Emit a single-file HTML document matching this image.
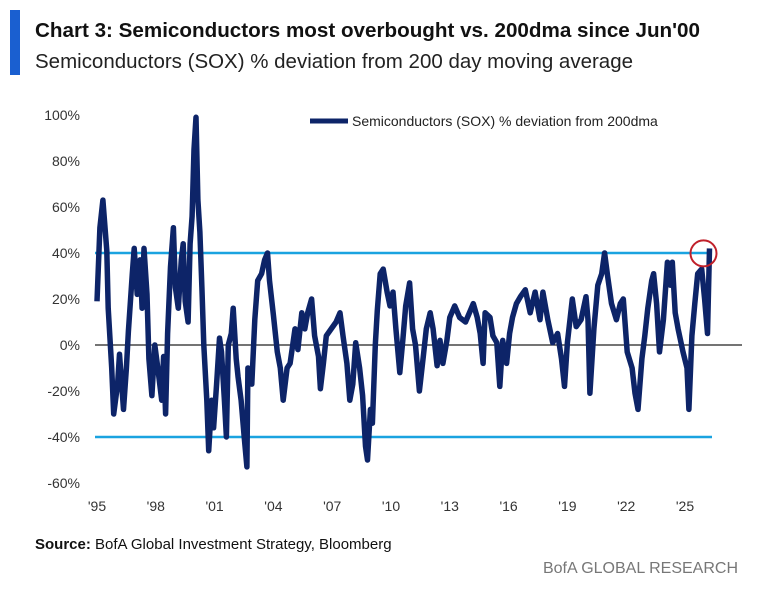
<!DOCTYPE html>
<html><head><meta charset="utf-8"><style>
body{margin:0;background:#fff;width:768px;height:591px;overflow:hidden;font-family:"Liberation Sans",sans-serif}
</style></head><body>
<svg width="768" height="591" viewBox="0 0 768 591" xmlns="http://www.w3.org/2000/svg" font-family="Liberation Sans, sans-serif">
<rect x="10" y="10" width="10" height="65" fill="#1a5fd0"/>
<text x="35" y="37" font-size="20" font-weight="bold" fill="#111" textLength="665" lengthAdjust="spacingAndGlyphs">Chart 3: Semiconductors most overbought vs. 200dma since Jun'00</text>
<text x="35" y="68" font-size="20" fill="#222" textLength="598" lengthAdjust="spacingAndGlyphs">Semiconductors (SOX) % deviation from 200 day moving average</text>
<g id="yticks" font-size="14" fill="#333" text-anchor="end"></g>
<g id="xticks" font-size="14" fill="#333" text-anchor="middle"></g>
<line id="zero" stroke="#222" stroke-width="1.3"/>
<line id="up" stroke="#1aa3e0" stroke-width="2.5"/>
<line id="dn" stroke="#1aa3e0" stroke-width="2.5"/>
<path id="series" fill="none" stroke="#0d2468" stroke-width="5.5" stroke-linejoin="round"/>
<circle id="mark" r="13" fill="none" stroke="#c0202a" stroke-width="2"/>
<line x1="310" y1="121" x2="348" y2="121" stroke="#0d2468" stroke-width="5"/>
<text x="352" y="126" font-size="14" fill="#222">Semiconductors (SOX) % deviation from 200dma</text>
<text x="35" y="549" font-size="15" fill="#111"><tspan font-weight="bold">Source:</tspan> BofA Global Investment Strategy, Bloomberg</text>
<text x="738" y="573" font-size="16" fill="#777" text-anchor="end">BofA GLOBAL RESEARCH</text>
</svg>
<script>
const yTickVals=[100,80,60,40,20,0,-20,-40,-60];
const xTickYears=[1995,1998,2001,2004,2007,2010,2013,2016,2019,2022,2025];
const xTickLabels=["'95","'98","'01","'04","'07","'10","'13","'16","'19","'22","'25"];
const years=[1995.0,1995.15,1995.3,1995.5,1995.57,1995.75,1995.85,1996.05,1996.15,1996.35,1996.5,1996.6,1996.8,1996.9,1997.05,1997.2,1997.3,1997.4,1997.55,1997.65,1997.8,1997.95,1998.1,1998.3,1998.4,1998.5,1998.6,1998.75,1998.9,1999.0,1999.15,1999.3,1999.4,1999.5,1999.65,1999.75,1999.85,1999.95,2000.05,2000.15,2000.25,2000.35,2000.45,2000.6,2000.7,2000.85,2000.95,2001.1,2001.25,2001.35,2001.5,2001.6,2001.7,2001.85,2001.95,2002.1,2002.2,2002.35,2002.5,2002.65,2002.7,2002.9,2003.05,2003.2,2003.4,2003.55,2003.7,2003.8,2004.0,2004.2,2004.35,2004.5,2004.7,2004.85,2005.1,2005.25,2005.45,2005.6,2005.75,2005.95,2006.1,2006.3,2006.4,2006.55,2006.7,2006.95,2007.2,2007.4,2007.55,2007.75,2007.9,2008.05,2008.2,2008.4,2008.55,2008.7,2008.8,2008.95,2009.05,2009.2,2009.3,2009.45,2009.6,2009.8,2009.95,2010.1,2010.25,2010.45,2010.6,2010.75,2010.95,2011.1,2011.25,2011.45,2011.65,2011.8,2012.0,2012.15,2012.35,2012.5,2012.65,2012.85,2013.0,2013.25,2013.5,2013.8,2014.05,2014.2,2014.4,2014.55,2014.7,2014.8,2015.05,2015.2,2015.4,2015.55,2015.7,2015.9,2016.05,2016.2,2016.4,2016.6,2016.85,2017.1,2017.35,2017.6,2017.75,2018.0,2018.25,2018.5,2018.7,2018.85,2019.0,2019.25,2019.45,2019.7,2019.95,2020.05,2020.15,2020.35,2020.55,2020.75,2020.9,2021.05,2021.25,2021.5,2021.7,2021.85,2022.05,2022.3,2022.45,2022.6,2022.8,2022.95,2023.1,2023.3,2023.4,2023.55,2023.7,2023.9,2024.1,2024.25,2024.35,2024.5,2024.65,2024.9,2025.1,2025.2,2025.35,2025.5,2025.65,2025.85,2026.0,2026.15,2026.25];
const values=[19,51,63,41,16,-10,-30,-17,-4,-28,-10,6,31,42,22,37,16,42,22,-6,-22,0,-10,-24,-5,-30,5,34,51,25,16,37,44,19,10,44,56,85,99,63,49,25,0,-24,-46,-24,-36,-17,3,-3,-24,-40,0,5,16,-6,-14,-24,-39,-53,-10,-17,11,28,31,37,40,28,13,-3,-10,-24,-10,-8,7,-2,14,7,14,20,4,-5,-19,-8,4,7,10,14,4,-8,-24,-17,1,-10,-22,-44,-50,-28,-34,0,15,31,33,23,17,23,7,-12,2,17,27,7,0,-20,-5,7,14,7,-9,2,-8,2,12,17,12,10,15,18,12,5,-8,14,12,4,1,-18,2,-8,5,12,18,21,24,14,23,11,23,11,1,5,-6,-18,1,20,8,11,21,11,-21,7,26,31,40,30,18,11,18,20,-3,-10,-21,-28,-6,4,16,28,31,18,-3,11,36,26,36,14,7,-3,-10,-28,4,18,31,33,20,5,42];
const X0=97,PXY=19.6,Y0=345,PXV=2.3;
const xS=y=>X0+(y-1995)*PXY, yS=v=>Y0-v*PXV;
const NS="http://www.w3.org/2000/svg";
const yg=document.getElementById('yticks');
yTickVals.forEach(v=>{const t=document.createElementNS(NS,'text');t.setAttribute('x',80);t.setAttribute('y',yS(v)+5);t.textContent=v+'%';


yg.appendChild(t);});
const xg=document.getElementById('xticks');
xTickYears.forEach((y,i)=>{const t=document.createElementNS(NS,'text');t.setAttribute('x',xS(y));t.setAttribute('y',511);t.textContent=xTickLabels[i];


xg.appendChild(t);});
function hl(id,v,x2){const l=document.getElementById(id);l.setAttribute('x1',95);l.setAttribute('x2',x2);l.setAttribute('y1',yS(v));l.setAttribute('y2',yS(v));}
hl('zero',0,742);hl('up',40,712);hl('dn',-40,712);
let d='';years.forEach((y,i)=>{d+=(i?'L':'M')+xS(y).toFixed(1)+' '+yS(values[i]).toFixed(1);});
document.getElementById('series').setAttribute('d',d);
const c=document.getElementById('mark');const n=years.length-1;
c.setAttribute('cx',xS(years[n])-6);c.setAttribute('cy',yS(values[n])+5);
</script>
</body></html>
